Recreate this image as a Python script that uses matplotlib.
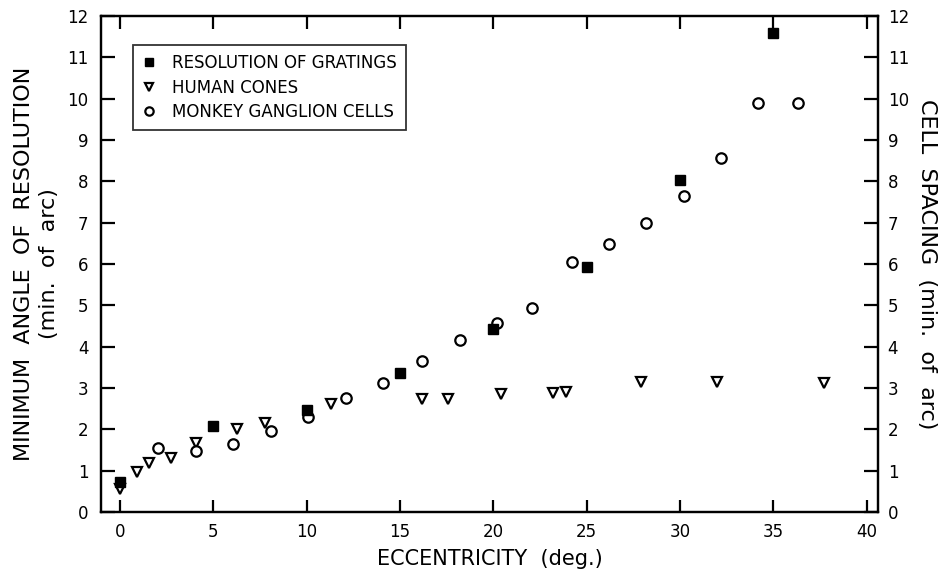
import matplotlib
matplotlib.use("Agg")
import matplotlib.pyplot as plt

# Resolution of gratings (filled squares)
grating_ecc = [0, 5, 10, 15, 20, 25, 30, 35]
grating_mar = [0.73, 2.08, 2.47, 3.37, 4.43, 5.93, 8.02, 11.6]

# Human cone spacing (open down-triangles)
cone_ecc = [0, 0.9, 1.55, 2.73, 4.1, 6.3, 7.77, 11.3, 16.2, 17.6, 20.4, 23.2, 23.9, 27.9, 32.0, 37.7]
cone_spacing = [0.56, 0.97, 1.18, 1.31, 1.67, 2.0, 2.15, 2.61, 2.73, 2.73, 2.85, 2.88, 2.91, 3.15, 3.15, 3.12]

# Monkey ganglion cell spacing (open circles)
gang_ecc = [2.04, 4.1, 6.07, 8.09, 10.1, 12.1, 14.1, 16.2, 18.2, 20.2, 22.1, 24.2, 26.2, 28.2, 30.2, 32.2, 34.2, 36.3]
gang_spacing = [1.55, 1.48, 1.65, 1.96, 2.3, 2.76, 3.12, 3.65, 4.16, 4.58, 4.93, 6.05, 6.48, 6.99, 7.65, 8.57, 9.9, 9.9]

x_ticks = [0, 5, 10, 15, 20, 25, 30, 35, 40]
y_ticks = list(range(0, 13))

plt.rcParams['font.family'] = ['DejaVu Sans']

fig = plt.figure(figsize=(9.45, 5.72), dpi=100)
ax = fig.add_axes([0.107, 0.105, 0.822, 0.867])

lw = 1.6
ax.plot(grating_ecc, grating_mar, linestyle='none', marker='s', ms=7,
        mfc='black', mec='black', label='RESOLUTION OF GRATINGS', zorder=3)
ax.plot(cone_ecc, cone_spacing, linestyle='none', marker='v', ms=7.5,
        mfc='white', mec='black', mew=1.6, label='HUMAN CONES', zorder=2)
ax.plot(gang_ecc, gang_spacing, linestyle='none', marker='o', ms=7.5,
        mfc='white', mec='black', mew=1.6, label='MONKEY GANGLION CELLS', zorder=2)

ax.set_xlim(-1.0, 40.6)
ax.set_ylim(0, 12)
ax.set_xticks(x_ticks)
ax.set_yticks(y_ticks)
ax.set_xticklabels([str(t) for t in x_ticks], fontsize=12)
ax.set_yticklabels([str(t) for t in y_ticks], fontsize=12)

for s in ax.spines.values():
    s.set_linewidth(lw)

ax.tick_params(axis='x', direction='in', length=9, width=lw, top=True, pad=8)
ax.tick_params(axis='y', direction='in', length=10, width=lw, pad=9)

ax2 = ax.twinx()
ax2.set_ylim(0, 12)
ax2.set_yticks(y_ticks)
ax2.set_yticklabels([str(t) for t in y_ticks], fontsize=12)
ax2.tick_params(axis='y', direction='in', length=10, width=lw, pad=7)
for s in ax2.spines.values():
    s.set_linewidth(lw)

ax.set_xlabel('ECCENTRICITY  (deg.)', fontsize=15, labelpad=6)
ax.set_ylabel('MINIMUM  ANGLE  OF  RESOLUTION\n(min.  of  arc)', fontsize=16,
              linespacing=1.3)
ax.yaxis.set_label_coords(-0.054, 0.5)
ax2.set_ylabel('CELL  SPACING  (min.  of  arc)', fontsize=16, rotation=270,
               va='bottom')
ax2.yaxis.set_label_coords(1.05, 0.5)

leg = ax.legend(loc='upper left', bbox_to_anchor=(0.041, 0.942), fontsize=12,
                frameon=True, fancybox=False, edgecolor='black',
                handlelength=0.8, handletextpad=1.0, borderpad=0.55,
                labelspacing=0.4, borderaxespad=0)
leg.get_frame().set_linewidth(1.3)
for h in leg.legend_handles:
    h.set_markersize(6)

fig.savefig('out.png', dpi=100)
